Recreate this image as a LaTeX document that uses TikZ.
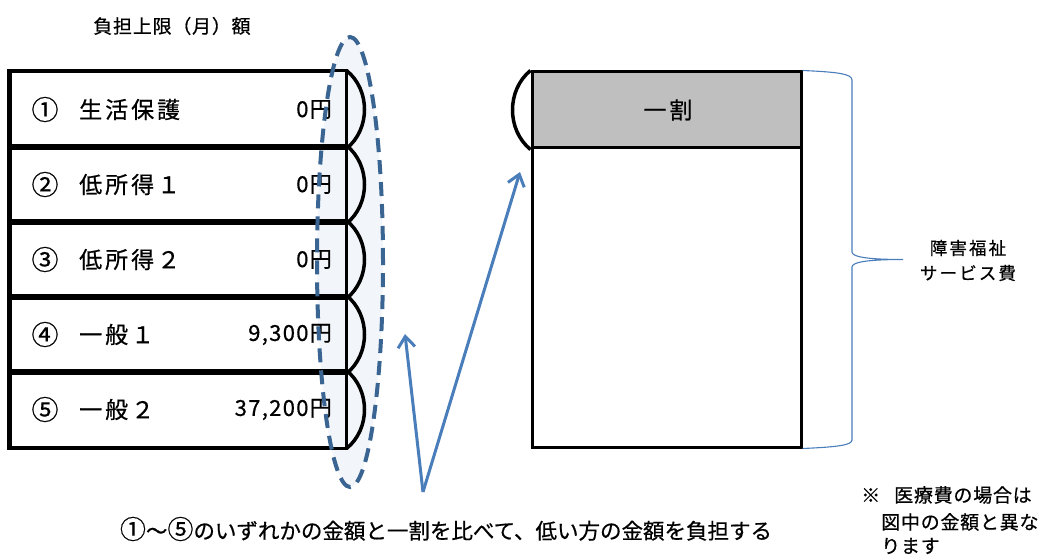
\documentclass[tikz,border=0pt]{standalone}
\usepackage{fontspec}
\setmainfont{Noto Sans CJK JP}[FakeBold=0.6]
\newfontfamily\rowfont[LetterSpace=13,FakeBold=0.6]{Noto Sans CJK JP}
\newfontfamily\numfont[LetterSpace=6,FakeBold=0.6]{Noto Sans CJK JP}
\newfontfamily\titlefont[LetterSpace=4,FakeBold=0.6]{Noto Sans CJK JP}
\newfontfamily\bracefont[LetterSpace=12,FakeBold=0.6]{Noto Sans CJK JP}
\newfontfamily\notefont[LetterSpace=4,FakeBold=0.6]{Noto Sans CJK JP}
\usetikzlibrary{arrows.meta,shapes.geometric}
\definecolor{arrowblue}{HTML}{4A7EBB}
\definecolor{ellblue}{HTML}{3A6491}
\definecolor{ellfill}{HTML}{F2F6FB}
\definecolor{hdrgray}{HTML}{BFBFBF}
\newcommand{\mycirc}[1]{{\fontsize{26}{26}\selectfont #1}}
\begin{document}
\begin{tikzpicture}[x=1pt,y=-1pt,
  boxline/.style={draw=black, line width=3pt},
  rowbox/.style={boxline, fill=white, minimum width=335pt, minimum height=75pt, inner sep=0pt},
  rightbox/.style={boxline, minimum width=269pt, inner sep=0pt},
  arcline/.style={draw=black, line width=3.5pt},
  rowlab/.style={font=\rowfont\fontsize{23}{27}\selectfont, inner sep=0pt, anchor=west},
  circlab/.style={font=\fontsize{27}{27}\selectfont, inner sep=0pt},
  numlab/.style={font=\numfont\fontsize{22}{26}\selectfont, inner sep=0pt, anchor=east},
  notelab/.style={font=\notefont\fontsize{19}{22}\selectfont, inner sep=0pt, anchor=west},
  arr/.style={draw=arrowblue, line width=3pt, -{Straight Barb[length=11pt,width=17pt]}},
  brace/.style={draw=arrowblue, line width=1.1pt},
  ellstyle/.style={draw=ellblue, line width=4pt, dash pattern=on 14pt off 8pt}
]
\useasboundingbox (0,0) rectangle (1046,556);

% title
\node[font=\titlefont\fontsize{19}{21}\selectfont, inner sep=0pt] (title) at (172,26) {負担上限（月）額};

% left rows
\node[rowbox] (r1) at (177.5,109.5) {};
\node[rowbox] (r2) at (177.5,184.5) {};
\node[rowbox] (r3) at (177.5,259.5) {};
\node[rowbox] (r4) at (177.5,334.5) {};
\node[rowbox] (r5) at (177.5,409.5) {};

% ellipse fill
\node[ellipse, fill=ellfill, minimum width=66pt, minimum height=450pt, inner sep=0pt] (ell) at (350,262) {};

% redraw outlines over the fill
\foreach \r in {r1,r2,r3,r4,r5} {
  \draw[boxline] (\r.north west) rectangle (\r.south east);
}

% row texts
\node[circlab] (c1) at (45,109.5) {①};
\node[rowlab] (t1) at (79,109.5) {生活保護};
\node[numlab] (v1) at (332,109.5) {0円};
\node[circlab] (c2) at (45,184.5) {②};
\node[rowlab] (t2) at (79,184.5) {低所得１};
\node[numlab] (v2) at (332,184.5) {0円};
\node[circlab] (c3) at (45,259.5) {③};
\node[rowlab] (t3) at (79,259.5) {低所得２};
\node[numlab] (v3) at (332,259.5) {0円};
\node[circlab] (c4) at (45,334.5) {④};
\node[rowlab] (t4) at (79,334.5) {一般１};
\node[numlab] (v4) at (332,334.5) {9,300円};
\node[circlab] (c5) at (45,409.5) {⑤};
\node[rowlab] (t5) at (79,409.5) {一般２};
\node[numlab] (v5) at (332,409.5) {37,200円};

% ellipse dashed outline
\draw[ellstyle] (ell.center) ellipse [x radius=33pt, y radius=225pt];

% arcs on the right of each row
\foreach \r in {r1,r2,r3,r4,r5} {
  \draw[arcline] (\r.north east) .. controls +(24,19.2) and +(24,-19.2) .. (\r.south east);
}

% right box
\node[rightbox, fill=hdrgray, minimum height=76pt] (hd) at (666.5,110) {};
\node[rightbox, fill=white, minimum height=299pt] (bd) at (666.5,297.5) {};
\node[font=\rowfont\fontsize{23}{27}\selectfont, inner sep=0pt] (hdt) at (668,110) {一割};
\draw[arcline] (hd.north west) .. controls +(-24,19.5) and +(-24,-19.5) .. (hd.south west);

% brace
\coordinate (bt) at (903,259.5);
\draw[brace] (hd.north east) .. controls (838,72) and (852,74) .. (852,80)
  -- (852,252) .. controls (852,257) and (868,259.5) .. (bt)
  .. controls (868,259.5) and (852,262) .. (852,267)
  -- (852,440) .. controls (852,445) and (838,447) .. (bd.south east);
\node[font=\bracefont\fontsize{17.5}{25}\selectfont, align=center, inner sep=0pt] (blab) at (968,260.5) {障害福祉\\サービス費};

% arrows
\coordinate (src) at (423,492);
\coordinate (tip1) at (405,334);
\coordinate (tip2) at (520,172);
\draw[arr] (src) -- (tip1);
\draw[arr] (src) -- (tip2);

% bottom text
\node[font=\fontsize{21.5}{25}\selectfont, inner sep=0pt] (bot) at (446,529) {\mycirc{①}～\mycirc{⑤}のいずれかの金額と一割を比べて、低い方の金額を負担する};

% note
\node[notelab] (n1) at (861,495) {※\hspace{14pt}医療費の場合は};
\node[notelab] (n2) at (881,522) {図中の金額と異な};
\node[notelab] (n3) at (881,546) {ります};
\end{tikzpicture}
\end{document}
